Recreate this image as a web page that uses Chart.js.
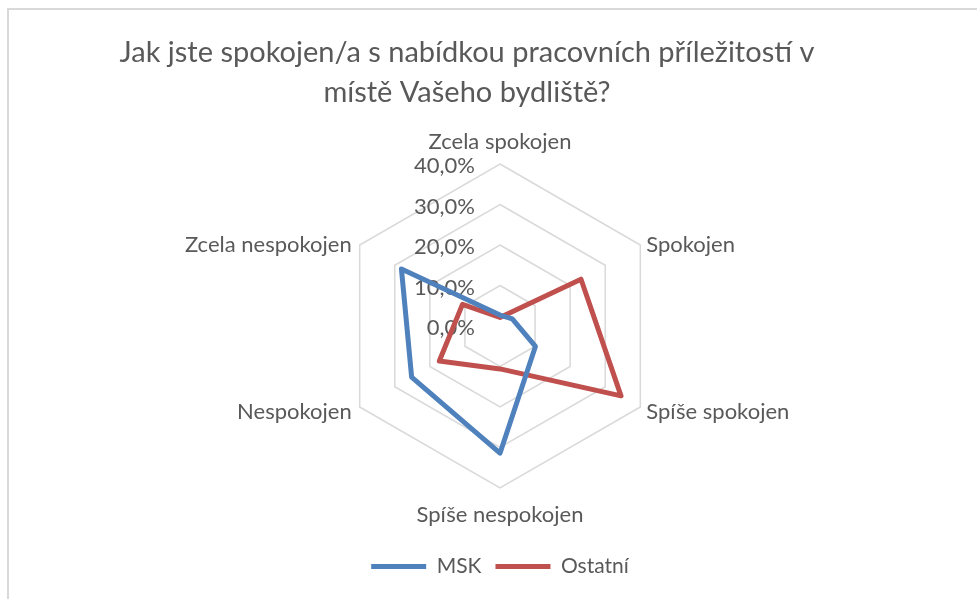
<!DOCTYPE html>
<html>
<head>
<meta charset="utf-8">
<script src="https://cdn.jsdelivr.net/npm/chart.js@4.4.1/dist/chart.umd.min.js"></script>
<style>
    html, body { margin: 0; padding: 0; background: #fff; overflow: hidden; }
    #frame { position: absolute; left: 7px; top: 8px; width: 1200px; height: 1200px; border: 2px solid #d9d9d9; }
    #wrap { position: absolute; left: 0; top: 0; width: 977px; height: 599px; }
</style>
</head>
<body>
<div id="frame"></div>
<div id="wrap"><canvas id="chartjs-radar" width="977" height="599"></canvas></div>
<script>
// Survey data (percent of respondents)
const titleLines = ['Jak jste spokojen/a s nabídkou pracovních příležitostí v', 'místě Vašeho bydliště?'];
const categories = ['Zcela spokojen', 'Spokojen', 'Spíše spokojen', 'Spíše nespokojen', 'Nespokojen', 'Zcela nespokojen'];
const mskValues = [2.7, 3.5, 10.1, 31.4, 25.2, 28.1];
const ostatniValues = [2.1, 23.1, 34.5, 10.6, 17.3, 10.7];
const tickValues = [0, 10, 20, 30, 40];
const tickLabels = ['0,0%', '10,0%', '20,0%', '30,0%', '40,0%'];

const textColor = '#595959';
const fontFamily = 'Lato, "Open Sans", sans-serif';

// Excel-like tick labels, drawn left of the vertical axis
const tickLabelPlugin = {
    id: 'tickLabelPlugin',
    beforeDatasetsDraw(chart) {
        const scale = chart.scales.r;
        const ctx = chart.ctx;
        ctx.save();
        ctx.font = '22px ' + fontFamily;
        ctx.fillStyle = textColor;
        ctx.textAlign = 'right';
        ctx.textBaseline = 'middle';
        scale.ticks.forEach(tick => {
            const y = scale.yCenter - scale.getDistanceFromCenterForValue(tick.value);
            ctx.fillText(tick.label, scale.xCenter - 25, y + 2);
        });
        ctx.restore();
    }
};

// Category labels placed around the hexagon like Excel does
const pointLabelPlugin = {
    id: 'pointLabelPlugin',
    afterDraw(chart) {
        const scale = chart.scales.r;
        const ctx = chart.ctx;
        ctx.save();
        ctx.font = '22px ' + fontFamily;
        ctx.fillStyle = textColor;
        ctx.textBaseline = 'middle';
        categories.forEach((label, i) => {
            const p = scale.getPointPosition(i, scale.drawingArea);
            const cos = Math.cos(p.angle);
            const sin = Math.sin(p.angle);
            if (Math.abs(cos) < 0.01) {
                ctx.textAlign = 'center';
                ctx.fillText(label, p.x, p.y + (sin < 0 ? -22 : 27));
            } else {
                ctx.textAlign = cos > 0 ? 'left' : 'right';
                ctx.fillText(label, p.x + (cos > 0 ? 6 : -8), p.y + (sin < 0 ? 0 : 5));
            }
        });
        ctx.restore();
    }
};

// Title is centred on the whole chart object, a bit left of the plot
const titleShiftPlugin = {
    id: 'titleShiftPlugin',
    afterLayout(chart) {
        if (chart.titleBlock) {
            chart.titleBlock.right -= 66;
        }
    }
};

const radarCtx = document.getElementById('chartjs-radar');
if (radarCtx) {
    new Chart(radarCtx, {
        type: 'radar',
        data: {
            labels: categories,
            datasets: [{
                label: 'MSK',
                data: mskValues,
                borderColor: '#4F81BD',
                backgroundColor: '#4F81BD',
                borderWidth: 5,
                borderCapStyle: 'round',
                borderJoinStyle: 'round',
                fill: false,
                pointRadius: 0
            }, {
                label: 'Ostatní',
                data: ostatniValues,
                borderColor: '#C0504D',
                backgroundColor: '#C0504D',
                borderWidth: 5,
                borderCapStyle: 'round',
                borderJoinStyle: 'round',
                fill: false,
                pointRadius: 0
            }]
        },
        options: {
            responsive: false,
            animation: false,
            layout: {
                padding: { left: 23, right: 0, top: 0, bottom: 12 }
            },
            scales: {
                r: {
                    min: 0,
                    max: 40,
                    ticks: {
                        stepSize: 10,
                        display: false,
                        callback: function(value) {
                            const idx = tickValues.indexOf(value);
                            return idx >= 0 ? tickLabels[idx] : '';
                        }
                    },
                    pointLabels: { display: false },
                    angleLines: { display: false },
                    grid: { color: '#d9d9d9', lineWidth: 1.5 }
                }
            },
            plugins: {
                title: {
                    display: true,
                    text: titleLines,
                    color: textColor,
                    font: { family: fontFamily, size: 29, weight: 'normal', lineHeight: 40 / 29 },
                    padding: { top: 33, bottom: 51 }
                },
                legend: {
                    position: 'bottom',
                    title: {
                        display: true,
                        text: '',
                        padding: { top: 52, bottom: 0 },
                        font: { size: 1, lineHeight: 1 }
                    },
                    labels: {
                        usePointStyle: true,
                        pointStyle: 'line',
                        pointStyleWidth: 55,
                        color: textColor,
                        font: { family: fontFamily, size: 21 },
                        padding: 14
                    }
                },
                tooltip: { enabled: false }
            }
        },
        plugins: [tickLabelPlugin, pointLabelPlugin, titleShiftPlugin]
    });
}
</script>
</body>
</html>
